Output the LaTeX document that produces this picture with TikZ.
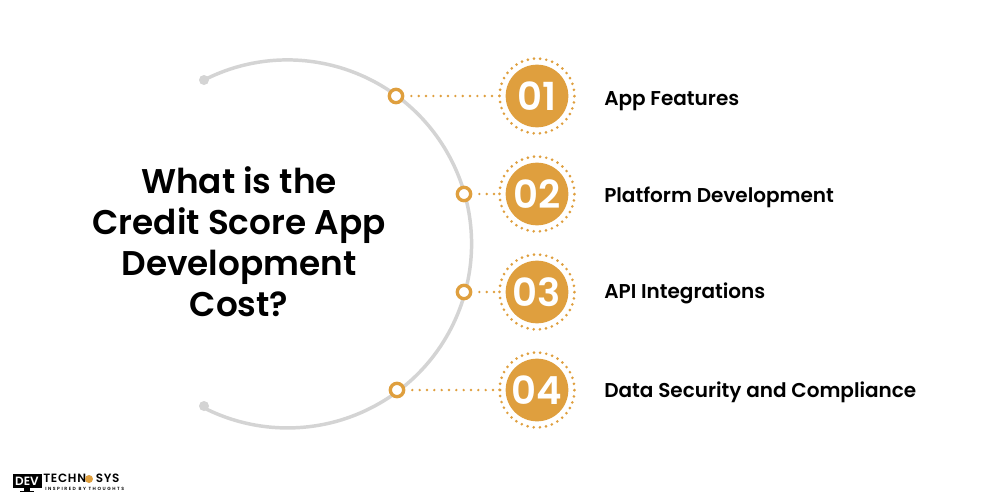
\documentclass[tikz,border=0pt]{standalone}
\usepackage{fontspec}
\usetikzlibrary{calc}
\setmainfont{Poppins}[BoldFont={Poppins SemiBold}]
\definecolor{gold}{HTML}{DF9F3E}
\definecolor{arcgrey}{HTML}{D4D4D4}
\tikzset{
  x=0.75pt,y=-0.75pt,
  numdisc/.style={circle,fill=gold,minimum size=47pt,inner sep=0pt,text=white,font=\bfseries\fontsize{29}{29}\selectfont},
  ringdots/.style={draw=gold,line width=2.2pt,line cap=round,dash pattern=on 0pt off 4.64pt},
  leader/.style={draw=gold,line width=2pt,line cap=round,dash pattern=on 0pt off 5.5pt},
  tick/.style={circle,draw=gold,fill=white,line width=2.5pt,minimum size=10pt,inner sep=0pt},
  endpt/.style={circle,fill=arcgrey,minimum size=7.5pt,inner sep=0pt},
  label/.style={anchor=base west,inner sep=0pt,font=\bfseries\fontsize{15}{18}\selectfont},
  head/.style={align=center,inner sep=0pt,font=\bfseries\fontsize{25.7}{30.7}\selectfont},
  logotxt/.style={anchor=base west,inner sep=0pt,font=\bfseries\fontsize{9}{9}\selectfont\addfontfeature{LetterSpace=6}},
}
\begin{document}
\begin{tikzpicture}
\useasboundingbox (0,0) rectangle (1000,500);
\fill[white] (0,0) rectangle (1000,500);
\node[endpt] (e1) at (204,80) {};
\node[endpt] (e2) at (204,406) {};
\draw[arcgrey,line width=2.6pt] (e1.center) arc[start angle=117,end angle=-117,radius=138pt];
\node[head] (title) at (239,242) {What is the\\Credit Score App\\Development\\Cost?};
\foreach \n/\y/\tx/\ly/\txt in {1/96/396/105/App Features,2/194/464/202/Platform Development,3/292/464/298/API Integrations,4/390/397/397/Data Security and Compliance}{
  \node[numdisc] (d\n) at (537,\y) {0\n};
  \draw[ringdots] (d\n.center) circle[radius=28.1pt];
  \node[tick] (t\n) at (\tx,\y) {};
  \draw[leader] ($(t\n.east)+(7,0)$) -- ($(d\n.west)+(-4.5,0)$);
  \node[label] (l\n) at (604,\ly) {\txt};
}
% logo
\fill[black] (13,474) rectangle (42,488);
\node[inner sep=0pt,text=white,font=\bfseries\fontsize{9}{9}\selectfont] (dev) at (27,481) {DEV};
\fill[black] (24,488) rectangle (30,491);
\fill[black] (20,491) rectangle (34,492);
\node[logotxt] (tech) at (43,482.5) {TECHN};
\fill[gold] (89,479) circle[radius=4];
\node[logotxt] (sys) at (95.5,482.5) {SYS};
\node[anchor=base west,inner sep=0pt,font=\bfseries\fontsize{3.4}{3.4}\selectfont\addfontfeature{LetterSpace=34}] (tag) at (45,490.5) {INSPIRED BY THOUGHTS};
\end{tikzpicture}
\end{document}
